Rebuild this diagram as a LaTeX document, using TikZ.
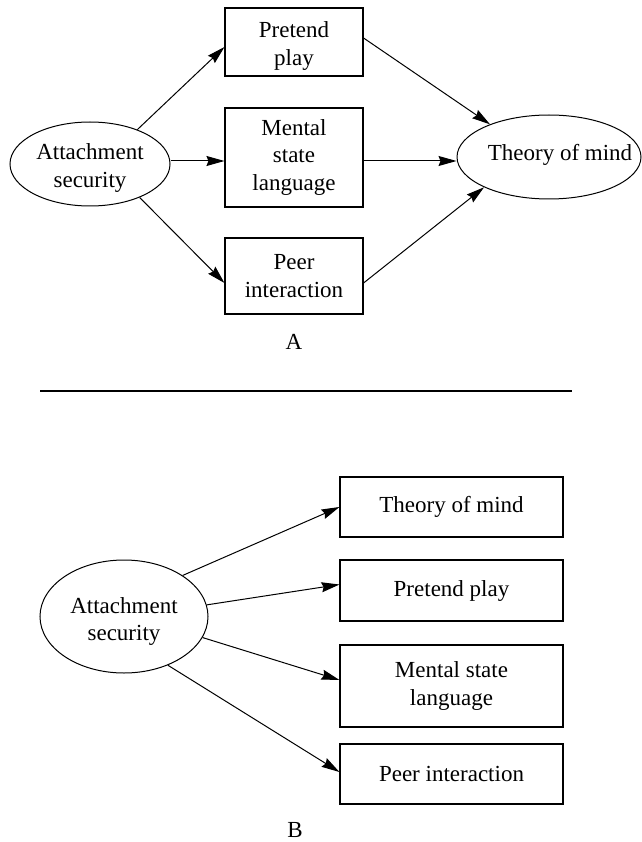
\documentclass[tikz,border=0pt]{standalone}
\usepackage{fontspec}
\setmainfont{Liberation Serif}
\usetikzlibrary{shapes.geometric,arrows.meta}
\begin{document}
\begin{tikzpicture}[x=1pt,y=-1pt,
  every node/.style={font=\fontsize{23}{27.5}\selectfont, align=center},
  boxnode/.style={draw, line width=1.1pt, rectangle, inner sep=0pt},
  ovalnode/.style={draw, line width=1pt, ellipse, inner sep=0pt},
  txt/.style={inner sep=0pt},
  arr/.style={line width=1pt, -{Stealth[length=18pt,width=10pt,inset=2pt]}}
]
\useasboundingbox[fill=white] (0,0) rectangle (641,842);
% ---------- Panel A ----------
\node[ovalnode, minimum width=160pt, minimum height=84pt] (att) at (90,164) {};
\node[txt] (attT) at (90,168) {Attachment\\security};
\node[boxnode, minimum width=138pt, minimum height=68pt] (pp) at (294,42) {};
\node[txt] (ppT) at (294,46) {Pretend\\play};
\node[boxnode, minimum width=138pt, minimum height=99pt] (msl) at (294,157.5) {Mental\\state\\language};
\node[boxnode, minimum width=138pt, minimum height=76pt] (pi) at (294,276) {Peer\\interaction};
\node[ovalnode, minimum width=184pt, minimum height=84pt] (tom) at (549,157) {};
\node[txt] (tomT) at (560,155) {Theory of mind};
\coordinate (hA) at (0,161);
\draw[arr] (att.36) -- ([yshift=-5pt]pp.west);
\draw[arr] (att.east |- hA) -- (msl.west |- hA);
\draw[arr] (att.-34) -- ([yshift=-7pt]pi.west);
\draw[arr] ([yshift=4pt]pp.east) -- (tom.151);
\draw[arr] (msl.east |- hA) -- (tom.west |- hA);
\draw[arr] ([yshift=-7pt]pi.east) -- (tom.205);
\node (lA) at (294,342) {A};
% ---------- separator ----------
\coordinate (s1) at (40,391);
\coordinate (s2) at (572,391);
\draw[line width=1.3pt] (s1) -- (s2);
% ---------- Panel B ----------
\node[ovalnode, minimum width=168pt, minimum height=113pt] (att2) at (124,616.5) {};
\node[txt] (att2T) at (124,621.5) {Attachment\\security};
\node[boxnode, minimum width=223pt, minimum height=60pt] (tom2) at (451.5,507) {Theory of mind};
\node[boxnode, minimum width=223pt, minimum height=61pt] (pp2) at (451.5,590.5) {Pretend play};
\node[boxnode, minimum width=223pt, minimum height=82pt] (msl2) at (451.5,686) {Mental state\\language};
\node[boxnode, minimum width=223pt, minimum height=60pt] (pi2) at (451.5,774) {Peer interaction};
\draw[arr] (att2.35) -- (tom2.west);
\draw[arr] (att2.8) -- ([yshift=6pt]pp2.west);
\draw[arr] (att2.-15) -- ([yshift=6pt]msl2.west);
\draw[arr] (att2.-48) -- ([yshift=2pt]pi2.west);
\node (lB) at (295,830) {B};
\end{tikzpicture}
\end{document}
